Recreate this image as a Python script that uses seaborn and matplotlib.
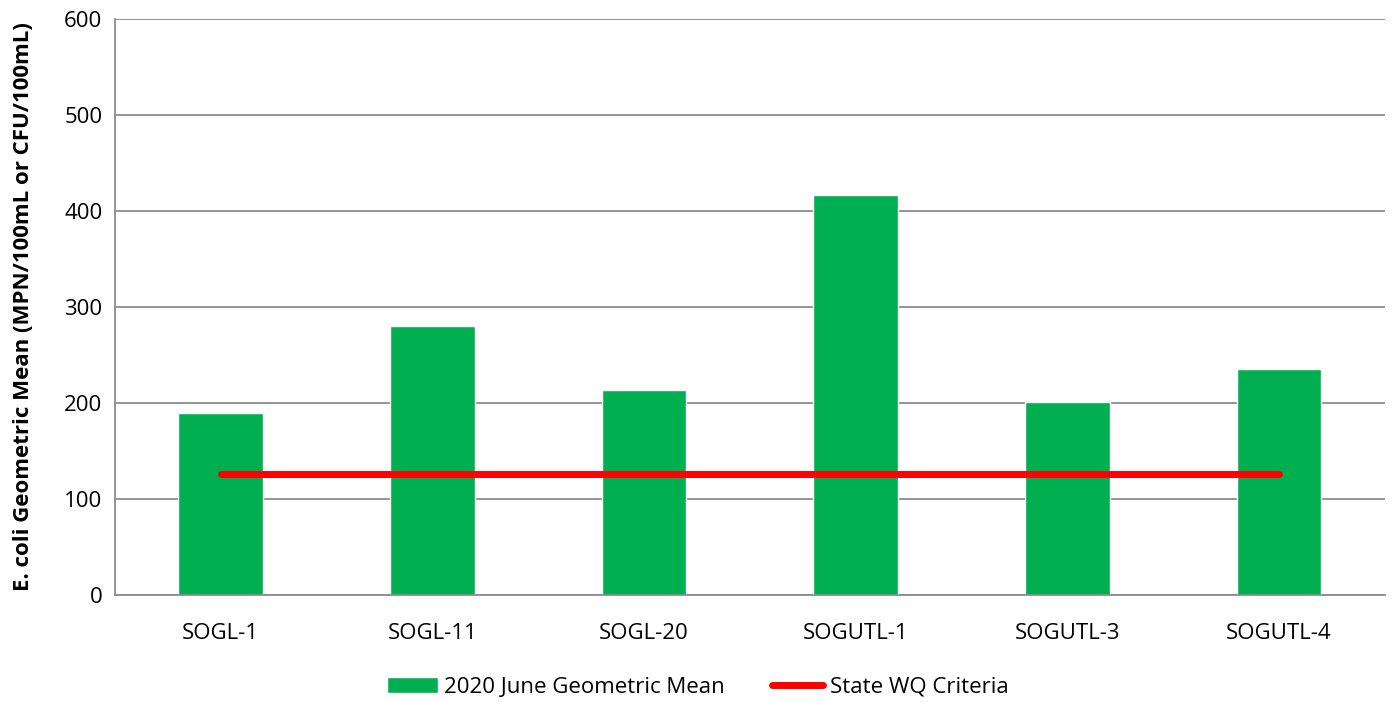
"""
E. coli geometric mean by site vs state WQ criteria
"""

import matplotlib
matplotlib.use("Agg")
import matplotlib.pyplot as plt
import seaborn as sns
from matplotlib.patches import Patch
from matplotlib.lines import Line2D

sites = ['SOGL-1', 'SOGL-11', 'SOGL-20', 'SOGUTL-1', 'SOGUTL-3', 'SOGUTL-4']
geo_mean = [190, 280, 214, 417, 201, 235]
criteria = [126, 126, 126, 126, 126, 126]

bar_label = '2020 June Geometric Mean'
line_label = 'State WQ Criteria'
y_label = 'E. coli Geometric Mean (MPN/100mL or CFU/100mL)'

sns.set_style('white')
plt.rcParams['font.family'] = ['Open Sans', 'DejaVu Sans']
plt.rcParams['text.color'] = 'black'
plt.rcParams['axes.labelcolor'] = 'black'
plt.rcParams['xtick.color'] = 'black'
plt.rcParams['ytick.color'] = 'black'

fig = plt.figure(figsize=(13.95, 7.02), dpi=100)
ax = fig.add_axes([0.0824, 0.1524, 0.9104, 0.8206])

sns.barplot(x=sites, y=geo_mean, color='#00B050', width=0.4, saturation=1,
            ax=ax, zorder=2)
ax.plot(range(len(sites)), criteria, color='#FF0000', lw=5,
        solid_capstyle='round', zorder=3)

ax.set_xlim(-0.5, len(sites) - 0.5)
ax.set_ylim(0, 600)
ax.set_yticks(range(0, 601, 100))
ax.yaxis.grid(True, color='#8c8c8c', lw=1.3, zorder=0)
ax.set_axisbelow(True)

for s in ['top', 'right']:
    ax.spines[s].set_visible(False)
for s in ['left', 'bottom']:
    ax.spines[s].set_color('#8c8c8c')
    ax.spines[s].set_linewidth(1.3)

ax.tick_params(axis='y', length=3, color='#8c8c8c', labelcolor='black', labelsize=16, pad=6)
ax.tick_params(axis='x', length=0, labelcolor='black', labelsize=16, pad=20)
ax.set_ylabel(y_label, fontsize=16, fontweight='bold', labelpad=22, color='black')
ax.set_xlabel('')

handles = [Patch(facecolor='#00B050', label=bar_label),
           Line2D([0], [0], color='#FF0000', lw=5, solid_capstyle='round', label=line_label)]
fig.legend(handles=handles, loc='center', bbox_to_anchor=(0.5, 0.021), ncol=2,
           frameon=False, fontsize=16, handlelength=2.3, columnspacing=2.1,
           handletextpad=0.3)

plt.savefig('out.png', dpi=100)
